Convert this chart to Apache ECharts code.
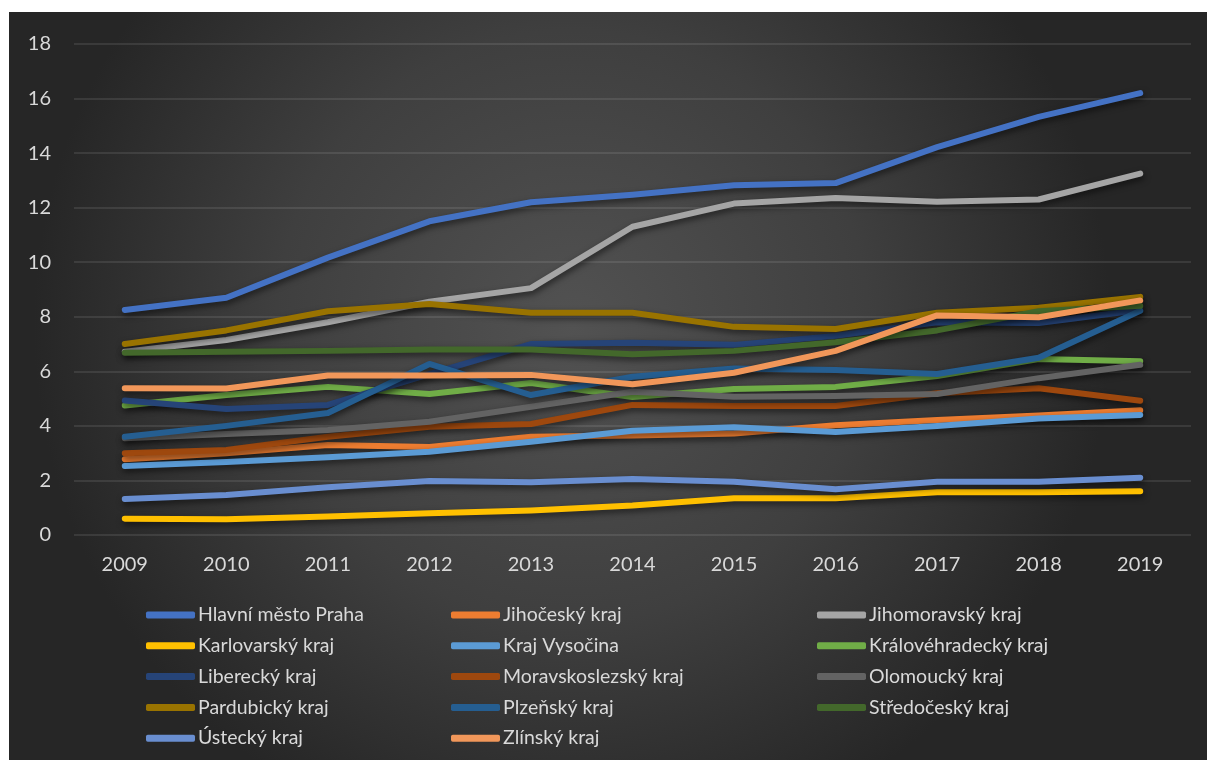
<!DOCTYPE html>
<html>
<head>
<meta charset="utf-8">
<script src="https://cdn.jsdelivr.net/npm/echarts@6/dist/echarts.min.js"></script>
<style>
  html, body { margin: 0; padding: 0; background: #ffffff; }
  #chart { width: 1209px; height: 760px; }
</style>
</head>
<body>
<div id="chart"></div>
<script>
// Years on the category axis
const years = ['2009', '2010', '2011', '2012', '2013', '2014', '2015', '2016', '2017', '2018', '2019'];

// Values per region
const praha            = [8.25, 8.7, 10.17, 11.5, 12.2, 12.47, 12.82, 12.9, 14.22, 15.33, 16.2];
const jihocesky        = [2.78, 3.0, 3.3, 3.23, 3.6, 3.65, 3.72, 4.02, 4.22, 4.38, 4.57];
const jihomoravsky     = [6.72, 7.15, 7.8, 8.55, 9.05, 11.3, 12.15, 12.35, 12.22, 12.3, 13.25];
const karlovarsky      = [0.6, 0.58, 0.68, 0.8, 0.9, 1.08, 1.35, 1.35, 1.57, 1.57, 1.6];
const vysocina         = [2.53, 2.68, 2.85, 3.05, 3.42, 3.82, 3.95, 3.78, 4.0, 4.27, 4.4];
const kralovehradecky  = [4.75, 5.13, 5.43, 5.17, 5.57, 5.06, 5.35, 5.43, 5.83, 6.45, 6.37];
const liberecky        = [4.93, 4.62, 4.77, 5.9, 7.0, 7.05, 6.97, 7.3, 7.8, 7.77, 8.25];
const moravskoslezsky  = [3.0, 3.12, 3.6, 3.97, 4.07, 4.77, 4.73, 4.73, 5.2, 5.38, 4.92];
const olomoucky        = [3.55, 3.7, 3.85, 4.15, 4.7, 5.25, 5.07, 5.1, 5.17, 5.75, 6.24];
const pardubicky       = [7.0, 7.5, 8.2, 8.47, 8.15, 8.15, 7.63, 7.55, 8.15, 8.33, 8.73];
const plzensky         = [3.6, 4.0, 4.47, 6.27, 5.13, 5.8, 6.1, 6.05, 5.9, 6.5, 8.22];
const stredocesky      = [6.68, 6.72, 6.75, 6.8, 6.8, 6.63, 6.75, 7.07, 7.5, 8.2, 8.4];
const ustecky          = [1.32, 1.47, 1.75, 1.98, 1.93, 2.05, 1.95, 1.68, 1.95, 1.95, 2.1];
const zlinsky          = [5.38, 5.37, 5.85, 5.85, 5.87, 5.53, 5.95, 6.75, 8.05, 7.98, 8.6];

const regionNames = [
  'Hlavní město Praha', 'Jihočeský kraj', 'Jihomoravský kraj', 'Karlovarský kraj',
  'Kraj Vysočina', 'Královéhradecký kraj', 'Liberecký kraj', 'Moravskoslezský kraj',
  'Olomoucký kraj', 'Pardubický kraj', 'Plzeňský kraj', 'Středočeský kraj',
  'Ústecký kraj', 'Zlínský kraj'
];
const regionValues = [
  praha, jihocesky, jihomoravsky, karlovarsky, vysocina, kralovehradecky, liberecky,
  moravskoslezsky, olomoucky, pardubicky, plzensky, stredocesky, ustecky, zlinsky
];
const regionColors = [
  '#4472C4', '#ED7D31', '#A5A5A5', '#FFC000', '#5B9BD5', '#70AD47', '#264478',
  '#9E480E', '#636363', '#997300', '#255E91', '#43682B', '#698ED0', '#F1975A'
];

const FONT = 'Lato, "Open Sans", sans-serif';
const TEXT = '#d9d9d9';

const series = regionNames.map((name, i) => ({
  name: name,
  type: 'line',
  data: regionValues[i],
  color: regionColors[i],
  symbol: 'none',
  smooth: false,
  lineStyle: {
    width: 6,
    color: regionColors[i],
    cap: 'round',
    join: 'round',
    shadowColor: 'rgba(0,0,0,0.55)',
    shadowBlur: 6,
    shadowOffsetX: 1,
    shadowOffsetY: 3
  },
  emphasis: { disabled: true }
}));

// Legend laid out in three columns, filled row by row
const columns = [[], [], []];
regionNames.forEach((n, i) => columns[i % 3].push(n));
const legendLefts = [141, 446, 812];
const legends = columns.map((col, c) => ({
  data: col,
  orient: 'vertical',
  left: legendLefts[c],
  top: 600,
  icon: 'roundRect',
  itemWidth: 49,
  itemHeight: 7,
  itemGap: 10.8,
  selectedMode: false,
  textStyle: { color: TEXT, fontSize: 19.5, fontFamily: FONT, lineHeight: 20, padding: [0, 0, 0, -2] }
}));

const chart = echarts.init(document.getElementById('chart'), null, { renderer: 'canvas' });
chart.setOption({
  backgroundColor: '#ffffff',
  animation: false,
  graphic: [{
    type: 'rect',
    z: -10,
    silent: true,
    shape: { x: 9, y: 12, width: 1198, height: 748 },
    style: {
      fill: new echarts.graphic.RadialGradient(0.47, 0.42, 0.72, [
        { offset: 0, color: '#525252' },
        { offset: 0.55, color: '#3f3f3f' },
        { offset: 1, color: '#262626' }
      ])
    }
  }],
  grid: { left: 74, right: 18, top: 44, bottom: 225, containLabel: false },
  xAxis: {
    type: 'category',
    data: years,
    boundaryGap: true,
    axisLine: { show: false },
    axisTick: { show: false },
    axisLabel: { color: TEXT, fontSize: 20, fontFamily: FONT, margin: 20 }
  },
  yAxis: {
    type: 'value',
    min: 0,
    max: 18,
    interval: 2,
    axisLine: { show: false },
    axisTick: { show: false },
    axisLabel: { color: TEXT, fontSize: 20, fontFamily: FONT, margin: 23 },
    splitLine: { lineStyle: { color: 'rgba(255,255,255,0.13)', width: 1.5 } }
  },
  legend: legends,
  series: series
});
</script>
</body>
</html>
